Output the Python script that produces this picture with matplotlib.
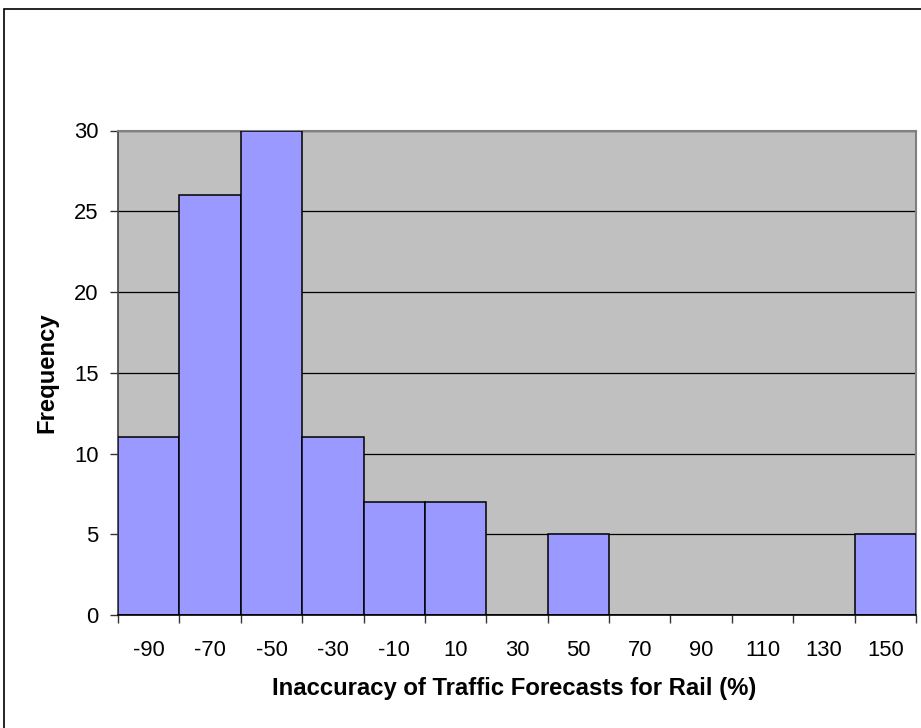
import numpy as np
import matplotlib
matplotlib.use('Agg')
import matplotlib.pyplot as plt
from matplotlib.patches import Rectangle

plt.rcParams['font.family'] = ['Liberation Sans', 'DejaVu Sans']

# bin centres (labels) and counts
bin_labels = [-90, -70, -50, -30, -10, 10, 30, 50, 70, 90, 110, 130, 150]
counts = [11, 26, 30, 11, 7, 7, 0, 5, 0, 0, 0, 0, 5]
yticks = [0, 5, 10, 15, 20, 25, 30]

W, H = 921, 728
fig = plt.figure(figsize=(W / 100, H / 100), dpi=100)

# outer chart border (Excel chart area)
fig.patches.append(Rectangle((4 / W, -0.1), 1.2, 1.1 - 9 / H, transform=fig.transFigure,
                             fill=False, edgecolor='#000000', lw=1.2))

ax = fig.add_axes([118 / W, 1 - 615 / H, 798 / W, 484.5 / H])
ax.set_facecolor('#C0C0C0')

edges = np.array(bin_labels) - 10
ax.bar(edges, counts, width=20, align='edge', color='#9999FF',
       edgecolor='black', linewidth=1.1, zorder=3)

ax.set_xlim(edges[0], edges[-1] + 20)
ax.set_ylim(0, 30)

# ticks at bin edges, labels at bin centres
ax.set_xticks(list(edges) + [edges[-1] + 20])
ax.set_xticklabels([])
ax.set_xticks(bin_labels, minor=True)
ax.set_xticklabels([str(v) for v in bin_labels], minor=True, fontsize=15.8)
ax.tick_params(axis='x', which='major', direction='out', length=6, width=1, color='#333333')
ax.tick_params(axis='x', which='minor', length=0, pad=18)

ax.set_yticks(yticks)
ax.set_yticklabels([str(v) for v in yticks], fontsize=15.8)
ax.tick_params(axis='y', direction='out', length=6, width=1, color='#333333', pad=8)

ax.yaxis.grid(True, color='black', lw=0.9, zorder=1)
ax.set_axisbelow(True)

for s in ['top', 'right']:
    ax.spines[s].set_color('#808080')
    ax.spines[s].set_linewidth(1.5)
ax.spines['left'].set_color('#404040')
ax.spines['left'].set_linewidth(1.2)
ax.spines['bottom'].set_color('black')
ax.spines['bottom'].set_linewidth(1.2)
ax.spines['bottom'].set_zorder(4)

fig.text(514.5 / W, 1 - 689 / H, 'Inaccuracy of Traffic Forecasts for Rail (%)',
         ha='center', va='center', fontsize=17.2, fontweight='bold')
fig.text(47 / W, 1 - 373 / H, 'Frequency', rotation=90,
         ha='center', va='center', fontsize=17.2, fontweight='bold')

fig.savefig('out.png', dpi=100)
